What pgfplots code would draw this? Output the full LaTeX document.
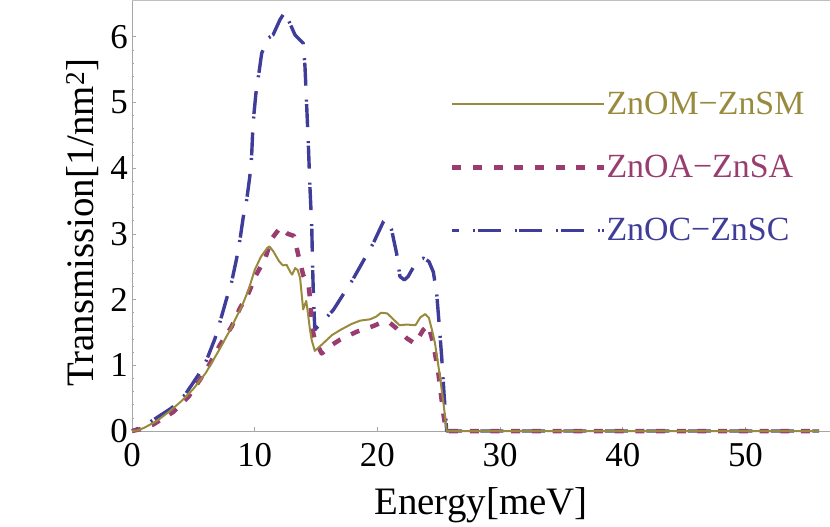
\documentclass[border=0pt]{standalone}
\usepackage{fontspec}
\setmainfont{Liberation Serif}
\usepackage{pgfplots}
\pgfplotsset{compat=1.18}
\definecolor{mgold}{rgb}{0.6,0.547,0.24}
\definecolor{mmag}{rgb}{0.6,0.24,0.443}
\definecolor{mblue}{rgb}{0.247,0.24,0.6}
\tikzset{
  goldsty/.style={mgold, line width=2bp, solid},
  magsty/.style={mmag, line width=4.5bp, dash pattern=on 9bp off 11.7bp},
  bluesty/.style={mblue, line width=3.4bp, dash pattern=on 23bp off 14bp on 2bp off 2.5bp, dash phase=16bp},
}
\begin{document}
\begin{tikzpicture}
\begin{axis}[
  scale only axis, width=698bp, height=431bp,
  xmin=0, xmax=56.89, ymin=0, ymax=6.56,
  axis lines*=left,
  axis line style={black!35, line width=0.8bp},
  tick style={black!35, line width=0.6bp},
  tick align=inside,
  major tick length=4.5bp, minor tick length=2.5bp,
  xtick={0,10,...,50}, ytick={0,...,6},
  minor y tick num=4,
  /pgf/number format/assume math mode=true,
  ticklabel style={font=\fontsize{35}{40}\selectfont},
  xticklabel style={anchor=north, inner sep=0pt, yshift=-12bp},
  yticklabel style={anchor=east, inner sep=0pt, xshift=-4bp},
  xlabel={Energy[meV]},
  ylabel={Transmission[1/nm\textsuperscript{2}]},
  label style={font=\fontsize{39}{44}\selectfont},
  xlabel style={at={(axis description cs:0.5,-0.1933)}, anchor=base},
  ylabel style={at={(axis description cs:-0.0554,0.483)}, anchor=base},
  legend style={draw=none, fill=none, at={(rel axis cs:0.4556,0.7854)}, anchor=north west,
    inner sep=0pt, outer sep=0pt, row sep=39bp, font=\fontsize{34}{40}\selectfont,
    nodes={inner sep=0pt}, /tikz/every even column/.append style={column sep=1bp}},
  legend cell align=left,
  legend image code/.code={\draw[#1] (0bp,0bp) -- (152bp,0bp);},
  clip=false,
]
\addplot[bluesty, line join=round, forget plot] coordinates {
(0,0) (0.92,0.07) (2,0.2) (3.23,0.35) (4.32,0.55) (5.4,0.85) (6.08,1.08) (6.77,1.41)
(7.17,1.66) (7.72,2.02) (8.12,2.27) (8.5,2.6) (8.8,2.91) (9.07,3.26) (9.35,3.52)
(9.6,3.87) (9.75,4.18) (9.83,4.53) (9.94,4.83) (10.1,5.14) (10.3,5.39) (10.57,5.75)
(11.1,5.98) (11.5,6.03) (12.06,6.26) (12.47,6.38) (12.74,6.26) (13.28,6.03) (13.96,5.90)
(14.1,5.54) (14.24,4.94) (14.37,4.38) (14.5,3.72) (14.65,3.11) (14.72,2.5) (14.78,2.10)
(14.9,1.54) (16.4,1.84) (18.04,2.32) (19.67,2.86) (20.5,3.19) (20.76,3.22) (21.16,3.06)
(21.57,2.70) (21.84,2.35) (22.2,2.3) (22.5,2.35) (23.2,2.58) (23.74,2.63) (24.2,2.58)
(24.56,2.42) (24.83,2.10) (25.05,1.59) (25.24,1.13) (25.43,0.57) (25.65,0) (56,0)
};
\addplot[magsty, line join=round, forget plot] coordinates {
(0,0) (1,0.04) (1.74,0.1) (2.5,0.19) (3.37,0.29) (4.6,0.52) (5.54,0.78) (6.36,1.03)
(7.17,1.31) (8.12,1.59) (8.8,1.87) (9.5,2.10) (10.1,2.37) (10.84,2.62) (11.4,2.93)
(12.1,3.10) (12.7,3.0) (13.2,2.97) (13.55,2.68) (13.96,2.37) (14.4,2.20) (14.56,1.94)
(14.65,1.59) (14.9,1.39) (15.46,1.18) (16.2,1.30) (16.96,1.39) (18.3,1.51) (19.7,1.60)
(20.2,1.64) (21.0,1.65) (21.57,1.56) (22.4,1.41) (23.06,1.33) (23.74,1.54) (24.15,1.61)
(24.56,1.33) (24.97,0.88) (25.37,0.27) (25.6,0) (56,0)
};
\addplot[goldsty, line join=round, forget plot] coordinates {
(0,0) (0.5,0.01) (1,0.05) (2,0.15) (3,0.29) (4,0.45) (5,0.64) (6,0.88) (7,1.2)
(8,1.54) (9,1.92) (9.5,2.15) (10,2.45) (10.5,2.65) (11,2.78) (11.2,2.81) (11.5,2.74)
(12,2.58) (12.3,2.52) (12.6,2.53) (12.9,2.42) (13.05,2.38) (13.3,2.48) (13.5,2.45)
(13.7,2.33) (13.95,1.85) (14.2,1.98) (14.3,1.85) (14.5,1.55) (14.65,1.38) (14.9,1.22)
(15.5,1.32) (16.3,1.46) (17,1.54) (17.9,1.63) (18.6,1.68) (19.4,1.70) (19.9,1.74)
(20.3,1.80) (20.8,1.79) (21.3,1.70) (21.8,1.61) (22.4,1.62) (23.1,1.61) (23.5,1.73)
(23.9,1.78) (24.2,1.72) (24.5,1.5) (24.7,1.33) (25.1,0.83) (25.4,0.4) (25.65,0) (56,0)
};
\addlegendimage{goldsty}
\addlegendentry{\textcolor{mgold}{ZnOM−ZnSM}}
\addlegendimage{magsty}
\addlegendentry{\textcolor{mmag}{ZnOA−ZnSA}}
\addlegendimage{bluesty}
\addlegendentry{\textcolor{mblue}{ZnOC−ZnSC}}
\draw[black!25, line width=0.8bp] (rel axis cs:0,1) -- (rel axis cs:1,1);
\coordinate (bl) at (rel axis cs:0,0);
\coordinate (tr) at (rel axis cs:1,1);
\end{axis}
\pgfresetboundingbox
\path (bl) ++(-132bp,-96bp) rectangle (tr);
\end{tikzpicture}
\end{document}
